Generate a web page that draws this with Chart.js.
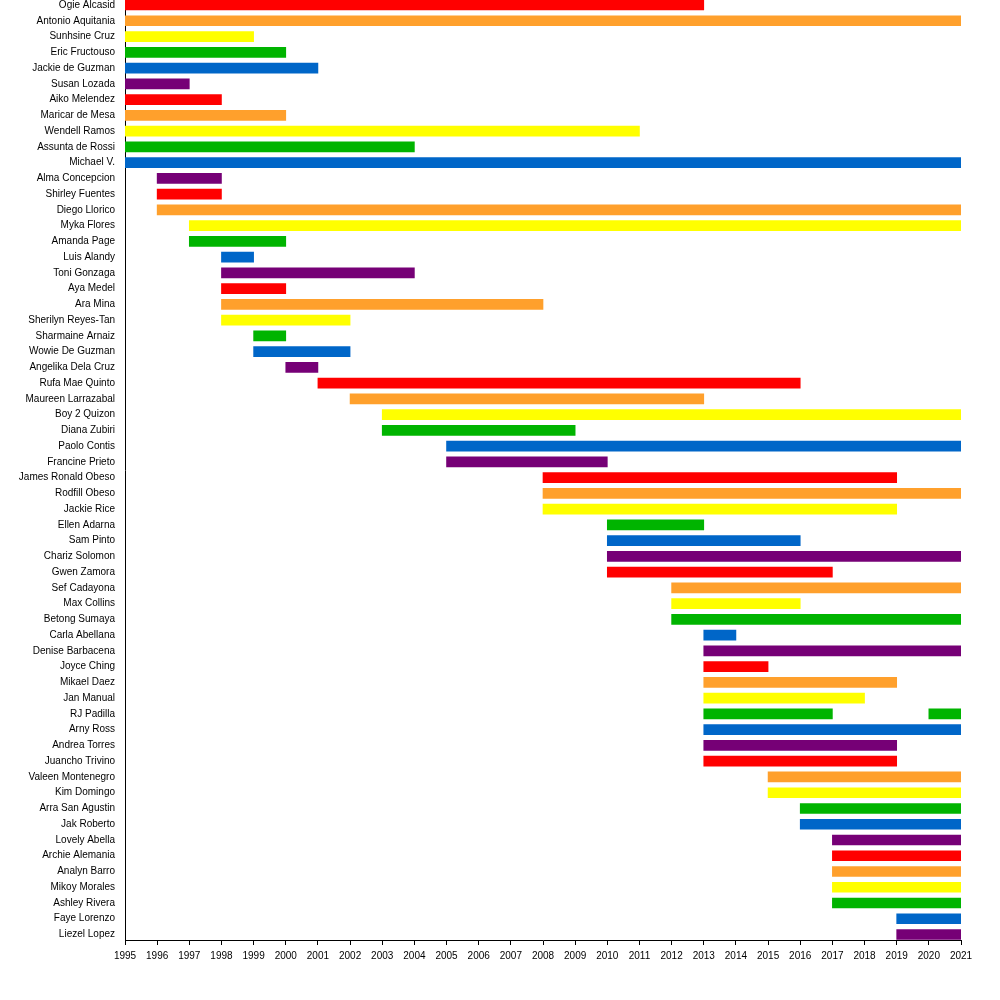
<!DOCTYPE html>
<html>
<head>
<meta charset="utf-8">
<script src="https://cdn.jsdelivr.net/npm/chart.js@4/dist/chart.umd.min.js"></script>
<style>
html,body{margin:0;padding:0;background:#fff;}
#wrap{position:absolute;left:0;top:0;width:1000px;height:1000px;}
</style>
</head>
<body>
<div id="wrap"><canvas id="c" width="1000" height="1000"></canvas></div>
<script>
const names = ["Ogie Alcasid","Antonio Aquitania","Sunhsine Cruz","Eric Fructouso","Jackie de Guzman","Susan Lozada","Aiko Melendez","Maricar de Mesa","Wendell Ramos","Assunta de Rossi","Michael V.","Alma Concepcion","Shirley Fuentes","Diego Llorico","Myka Flores","Amanda Page","Luis Alandy","Toni Gonzaga","Aya Medel","Ara Mina","Sherilyn Reyes-Tan","Sharmaine Arnaiz","Wowie De Guzman","Angelika Dela Cruz","Rufa Mae Quinto","Maureen Larrazabal","Boy 2 Quizon","Diana Zubiri","Paolo Contis","Francine Prieto","James Ronald Obeso","Rodfill Obeso","Jackie Rice","Ellen Adarna","Sam Pinto","Chariz Solomon","Gwen Zamora","Sef Cadayona","Max Collins","Betong Sumaya","Carla Abellana","Denise Barbacena","Joyce Ching","Mikael Daez","Jan Manual","RJ Padilla","Arny Ross","Andrea Torres","Juancho Trivino","Valeen Montenegro","Kim Domingo","Arra San Agustin","Jak Roberto","Lovely Abella","Archie Alemania","Analyn Barro","Mikoy Morales","Ashley Rivera","Faye Lorenzo","Liezel Lopez"];
const startYears = [1995,1995,1995,1995,1995,1995,1995,1995,1995,1995,1995,1996,1996,1996,1997,1997,1998,1998,1998,1998,1998,1999,1999,2000,2001,2002,2003,2003,2005,2005,2008,2008,2008,2010,2010,2010,2010,2012,2012,2012,2013,2013,2013,2013,2013,2013,2013,2013,2013,2015,2015,2016,2016,2017,2017,2017,2017,2017,2019,2019];
const endYears = [2013,2021,1999,2000,2001,1997,1998,2000,2011,2004,2021,1998,1998,2021,2021,2000,1999,2004,2000,2008,2002,2000,2002,2001,2016,2013,2021,2009,2021,2010,2019,2021,2019,2013,2016,2021,2017,2021,2016,2021,2014,2021,2015,2019,2018,2017,2021,2019,2019,2021,2021,2021,2021,2021,2021,2021,2021,2021,2021,2021];
const extraNames = ["RJ Padilla"];
const extraStarts = [2020];
const extraEnds = [2021];
const yearTicks = [1995,1996,1997,1998,1999,2000,2001,2002,2003,2004,2005,2006,2007,2008,2009,2010,2011,2012,2013,2014,2015,2016,2017,2018,2019,2020,2021];

const palette = ["#ff0000","#ffa02c","#ffff00","#00b400","#0066c8","#760076"];

const points = [];
const colors = [];
names.forEach((n, i) => {
  points.push({x:[startYears[i], endYears[i]], y:i});
  colors.push(palette[i % palette.length]);
});
extraNames.forEach((n, k) => {
  const i = names.indexOf(n);
  points.push({x:[extraStarts[k], extraEnds[k]], y:i});
  colors.push(palette[i % palette.length]);
});

const FONT = "'Liberation Sans', Arial, sans-serif";

new Chart(document.getElementById('c'), {
  type: 'bar',
  data: {
    datasets: [{
      data: points,
      backgroundColor: colors,
      borderWidth: 0,
      barThickness: 10,
      grouped: false
    }]
  },
  options: {
    indexAxis: 'y',
    responsive: false,
    animation: false,
    events: [],
    layout: {padding: {top: 0, right: 39, bottom: 0, left: 0}},
    plugins: {legend: {display: false}, tooltip: {enabled: false}},
    scales: {
      x: {
        type: 'linear',
        min: yearTicks[0],
        max: yearTicks[yearTicks.length - 1],
        afterBuildTicks: (s) => { s.ticks = yearTicks.map(v => ({value: v})); },
        afterFit: (s) => { s.height = 60; s.paddingLeft = 0; s.paddingRight = 0; },
        ticks: {
          autoSkip: false,
          maxRotation: 0,
          color: '#000',
          font: {family: FONT, size: 10},
          padding: 5,
          callback: (v) => String(v)
        },
        grid: {display: true, drawOnChartArea: false, drawTicks: true, tickLength: 5, color: '#000', lineWidth: 1},
        border: {display: true, color: '#000', width: 1}
      },
      y: {
        type: 'linear',
        reverse: true,
        offset: false,
        min: -0.32,
        max: 59.35,
        afterBuildTicks: (s) => { s.ticks = names.map((_, i) => ({value: i})); },
        afterFit: (s) => { s.width = 125; s.paddingTop = 0; s.paddingBottom = 0; },
        ticks: {
          autoSkip: false,
          color: '#000',
          font: {family: FONT, size: 10},
          padding: 10,
          callback: (v) => names[v]
        },
        grid: {display: false, drawTicks: false, tickLength: 0, offset: false},
        border: {display: true, color: '#000', width: 1}
      }
    }
  }
});
</script>
</body>
</html>
